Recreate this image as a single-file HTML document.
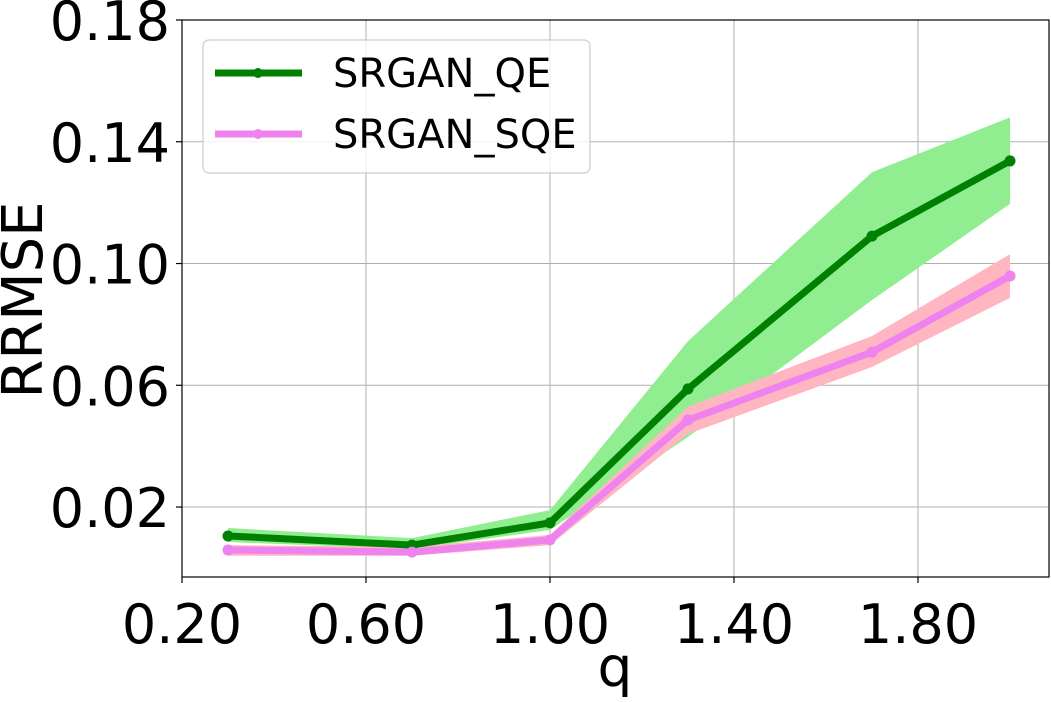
<!DOCTYPE html>
<html><head><meta charset="utf-8"><style>
body{margin:0;background:#fff;}
svg text{font-family:"DejaVu Sans","Liberation Sans",sans-serif;fill:#000;}
</style></head><body>
<svg id="chart" width="1051" height="697" xmlns="http://www.w3.org/2000/svg">
<g id="grid"></g>
<g id="bands"></g>
<g id="lines"></g>
<rect x="182" y="20" width="867" height="557" fill="none" stroke="#000" stroke-width="1.2"/>
<g id="ticks"></g>
<text x="615" y="686" font-size="55" text-anchor="middle">q</text>
<text transform="translate(42,300) rotate(-90)" font-size="56" text-anchor="middle">RRMSE</text>
<g>
<rect x="203" y="40" width="387" height="133" rx="6" fill="#fff" fill-opacity="0.8" stroke="#ccc" stroke-width="1.2"/>
<line x1="215" y1="73" x2="302" y2="73" stroke="#008000" stroke-width="7"/>
<circle cx="258" cy="73" r="5" fill="#008000"/>
<text x="333" y="87" font-size="40">SRGAN_QE</text>
<line x1="215" y1="134" x2="302" y2="134" stroke="#ee82ee" stroke-width="7"/>
<circle cx="258" cy="134" r="5" fill="#ee82ee"/>
<text x="333" y="148" font-size="40">SRGAN_SQE</text>
</g>
</svg>
<script>
const qValues = [0.3, 0.7, 1.0, 1.3, 1.7, 2.0];
const qeMean = [0.0105, 0.0075, 0.0148, 0.0588, 0.109, 0.1337];
const qeUpper = [0.0131, 0.0098, 0.019, 0.0745, 0.130, 0.148];
const qeLower = [0.0085, 0.0062, 0.0125, 0.043, 0.088, 0.1196];
const sqeMean = [0.0059, 0.0052, 0.0092, 0.0486, 0.0709, 0.0959];
const sqeUpper = [0.0075, 0.0069, 0.0108, 0.053, 0.0762, 0.1031];
const sqeLower = [0.004, 0.004, 0.0075, 0.044, 0.066, 0.0887];
const xTicks = [0.2, 0.6, 1.0, 1.4, 1.8];
const yTicks = [0.02, 0.06, 0.10, 0.14, 0.18];

const NS = "http://www.w3.org/2000/svg";
const X0 = 182, X1 = 1049, Y0 = 20, Y1 = 577;
const xS = v => 182 + (v - 0.2) * 460;
const yS = v => 20 + (0.18 - v) * 3044;
function mk(tag, attrs, parent){const e=document.createElementNS(NS,tag);for(const k in attrs)e.setAttribute(k,attrs[k]);parent.appendChild(e);return e;}
const grid=document.getElementById('grid'), ticks=document.getElementById('ticks');
xTicks.forEach(t=>{
  const x=xS(t);
  const g=mk('line',{x1:x,x2:x,y1:Y0,y2:Y1,stroke:'#b0b0b0','stroke-width':1},grid);
  
  
  const tk=mk('line',{x1:x,x2:x,y1:Y1,y2:Y1+6,stroke:'#000','stroke-width':1.2},ticks);
  
  
  const tx=mk('text',{x:x,y:Y1+66,'font-size':54,'text-anchor':'middle'},ticks);
  tx.textContent=t.toFixed(2);
  
  
});
yTicks.forEach(t=>{
  const y=yS(t);
  const g=mk('line',{x1:X0,x2:X1,y1:y,y2:y,stroke:'#b0b0b0','stroke-width':1},grid);
  
  
  const tk=mk('line',{x1:X0-6,x2:X0,y1:y,y2:y,stroke:'#000','stroke-width':1.2},ticks);
  
  
  const tx=mk('text',{x:X0-12,y:y+20,'font-size':54,'text-anchor':'end'},ticks);
  tx.textContent=t.toFixed(2);
  
  
});
function band(up,lo,color,name){
  let pts=qValues.map((q,i)=>xS(q)+','+yS(up[i]));
  pts=pts.concat(qValues.map((q,i)=>xS(q)+','+yS(lo[i])).reverse());
  const p=mk('polygon',{points:pts.join(' '),fill:color},document.getElementById('bands'));
  
  
}
band(qeUpper,qeLower,'#90ee90','band-qe');
band(sqeUpper,sqeLower,'#ffb6c1','band-sqe');
function series(m,color,name){
  const L=document.getElementById('lines');
  const pl=mk('polyline',{points:qValues.map((q,i)=>xS(q)+','+yS(m[i])).join(' '),fill:'none',stroke:color,'stroke-width':7,'stroke-linejoin':'round'},L);
  
  
  qValues.forEach((q,i)=>{
    const c=mk('circle',{cx:xS(q),cy:yS(m[i]),r:5.5,fill:color},L);
    
    
  });
}
series(qeMean,'#008000','qe');
series(sqeMean,'#ee82ee','sqe');
</script>
</body></html>
